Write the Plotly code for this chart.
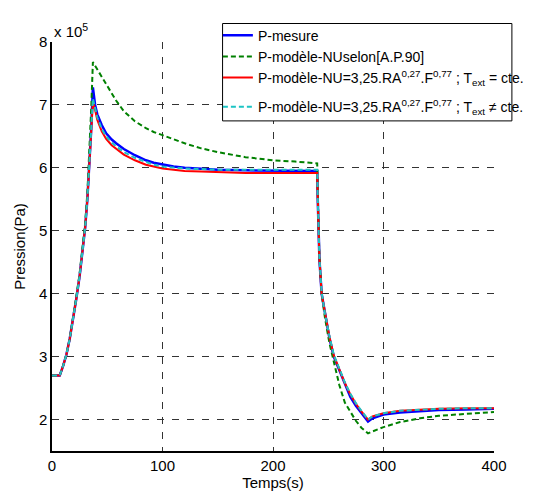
import plotly.graph_objects as go

# Time (s)
t = [0, 7, 10, 13, 16, 19, 22, 25, 28, 30, 32, 34, 35.5, 37,
     39, 41, 45, 49, 54, 58, 65, 75, 85, 92, 100, 110, 120, 135, 150, 175, 200, 220, 240,
     240.5, 241, 242, 244, 247, 251, 255, 260, 265, 270, 275, 280, 286,
     290, 300, 315, 333, 350, 375, 400]

# Pressure (x 10^5 Pa)
p_mesure = [2.70, 2.70, 2.85, 3.03, 3.28, 3.58, 3.92, 4.28, 4.70, 5.05, 5.50, 6.10, 6.62, 7.28,
            7.00, 6.85, 6.68, 6.55, 6.45, 6.39, 6.30, 6.20, 6.12, 6.08, 6.05, 6.02, 6.00, 5.98, 5.97, 5.96, 5.96, 5.95, 5.95,
            5.50, 5.00, 4.55, 4.00, 3.67, 3.30, 3.00, 2.78, 2.55, 2.36, 2.22, 2.10, 1.97,
            2.02, 2.08, 2.11, 2.13, 2.15, 2.16, 2.17]
p_nu_selon = [2.70, 2.70, 2.85, 3.03, 3.28, 3.60, 3.95, 4.32, 4.76, 5.12, 5.60, 6.25, 6.95, 7.68,
              7.62, 7.56, 7.45, 7.33, 7.19, 7.07, 6.90, 6.74, 6.63, 6.57, 6.52, 6.45, 6.39, 6.31, 6.25, 6.17, 6.12, 6.10, 6.07,
              5.60, 5.05, 4.60, 4.00, 3.62, 3.22, 2.90, 2.55, 2.27, 2.12, 1.98, 1.87, 1.78,
              1.81, 1.88, 1.96, 2.02, 2.06, 2.09, 2.12]
p_nu_cte = [2.70, 2.70, 2.85, 3.03, 3.28, 3.58, 3.92, 4.28, 4.70, 5.05, 5.50, 6.08, 6.55, 7.05,
            6.92, 6.76, 6.58, 6.46, 6.36, 6.30, 6.21, 6.12, 6.05, 6.02, 5.99, 5.97, 5.95, 5.94, 5.93, 5.92, 5.92, 5.92, 5.92,
            5.50, 5.00, 4.55, 4.00, 3.68, 3.32, 3.02, 2.80, 2.58, 2.40, 2.25, 2.13, 2.00,
            2.05, 2.10, 2.14, 2.16, 2.17, 2.18, 2.18]
p_nu_var = [2.70, 2.70, 2.85, 3.03, 3.28, 3.58, 3.92, 4.28, 4.70, 5.05, 5.50, 6.08, 6.58, 7.10,
            6.95, 6.80, 6.62, 6.50, 6.40, 6.34, 6.25, 6.16, 6.09, 6.05, 6.02, 6.00, 5.99, 5.98, 5.97, 5.97, 5.97, 5.97, 5.97,
            5.52, 5.02, 4.57, 4.02, 3.69, 3.33, 3.03, 2.81, 2.59, 2.41, 2.26, 2.14, 2.00,
            2.05, 2.10, 2.14, 2.16, 2.17, 2.18, 2.18]

x_ticks = [0, 100, 200, 300, 400]
y_ticks = [2, 3, 4, 5, 6, 7, 8]

names = [
    "P-mesure",
    "P-modèle-NUselon[A.P.90]",
    "P-modèle-NU=3,25.RA<sup>0,27</sup>.F<sup>0,77</sup> ; T<sub>ext</sub> = cte.",
    "P-modèle-NU=3,25.RA<sup>0,27</sup>.F<sup>0,77</sup> ; T<sub>ext</sub> ≠ cte.",
]
series = [p_mesure, p_nu_selon, p_nu_cte, p_nu_var]
colors = ["#0000FF", "#008000", "#FF0000", "#1CC4C4"]
widths = [2.5, 2, 2, 2]
dashes = ["solid", "5px,3px", "solid", "5px,3px"]
legend_ids = ["legend", "legend", "legend", "legend2"]

FONT = "Arial, Liberation Sans, sans-serif"

fig = go.Figure()
for name, y, c, w, d, lg in zip(names, series, colors, widths, dashes, legend_ids):
    fig.add_trace(go.Scatter(x=t, y=y, mode="lines", name=name, legend=lg,
                             line=dict(color=c, width=w, dash=d)))

axis_common = dict(
    showgrid=True, gridcolor="#333333", gridwidth=1, griddash="7px,8px",
    showline=True, linecolor="black", linewidth=1.5, mirror=False,
    ticks="", zeroline=False,
    tickfont=dict(family=FONT, size=15, color="black"),
)

legend_common = dict(xanchor="left", yanchor="top", bgcolor="rgba(0,0,0,0)",
                     borderwidth=0, font=dict(family=FONT, size=14, color="black"),
                     itemwidth=30, tracegroupgap=0)

# The page body keeps its default 8px margin, so the figure is 8px smaller.
fig.update_layout(
    width=533, height=488,
    margin=dict(l=44, r=20, t=23, b=45),
    paper_bgcolor="white", plot_bgcolor="white",
    font=dict(family=FONT, color="black"),
    xaxis=dict(range=[0, 400], tickvals=x_ticks, automargin=False,
               title=dict(text="Temps(s)", font=dict(family=FONT, size=15), standoff=2),
               **axis_common),
    yaxis=dict(range=[1.5, 8], tickvals=y_ticks, automargin=False,
               title=dict(text="Pression(Pa)", font=dict(family=FONT, size=15), standoff=10),
               **axis_common),
    legend=dict(x=0.3753, y=1.0548, **legend_common),
    legend2=dict(x=0.3753, y=0.8800, **legend_common),
    showlegend=True,
    shapes=[dict(type="rect", xref="paper", yref="paper",
                 x0=0.3859, x1=1.0405, y0=0.8071, y1=1.0452,
                 line=dict(color="black", width=1), fillcolor="white", layer="above")],
    annotations=[dict(text="x 10<sup>5</sup>", xref="paper", yref="paper",
                      x=0, y=1, xanchor="left", yanchor="bottom", yshift=0,
                      showarrow=False, font=dict(family=FONT, size=15, color="black"))],
)

fig.write_html("out.html")
